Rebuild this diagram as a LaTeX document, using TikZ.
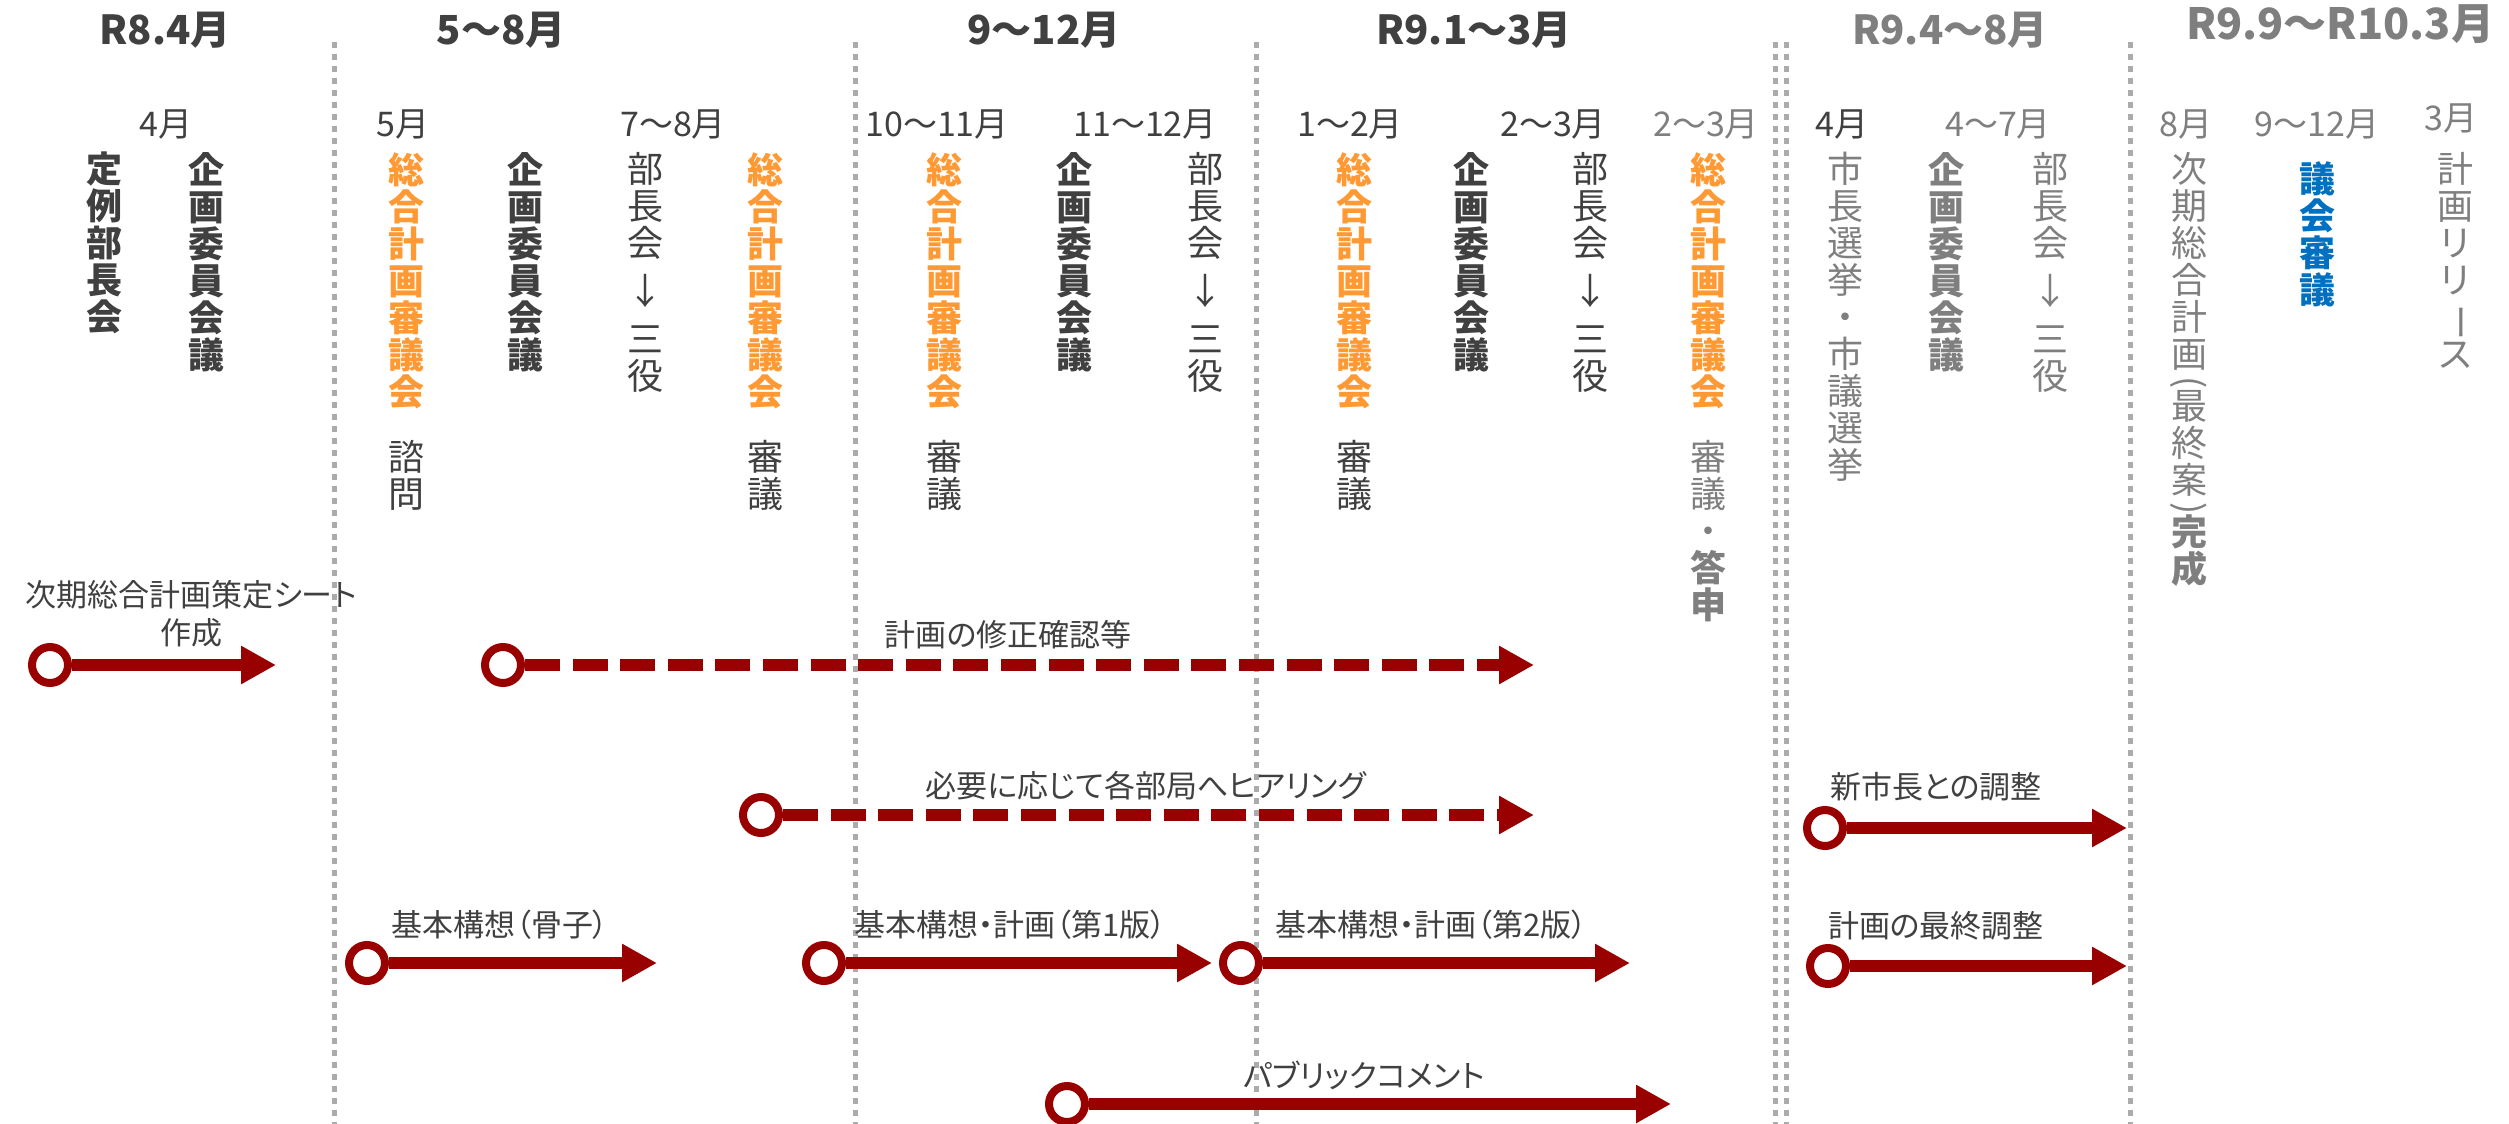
\documentclass[tikz,border=0pt]{standalone}
\usepackage{fontspec}
\usepackage{graphicx}
\setmainfont{Noto Sans CJK JP}[RawFeature={+palt}]
\usetikzlibrary{arrows.meta}
\definecolor{dk}{HTML}{404040}
\definecolor{gy}{HTML}{7F7F7F}
\definecolor{og}{HTML}{FF9933}
\definecolor{bl}{HTML}{0070C0}
\definecolor{rd}{HTML}{990000}
\definecolor{dotc}{HTML}{ABABAB}
\newcommand\vfnt{\fontsize{36}{37}\selectfont\lineskiplimit=-100pt\relax}
\newcommand\rotch[1]{\rotatebox[origin=c]{-90}{#1}}
\begin{document}
\begin{tikzpicture}[x=1pt,y=-1pt,
  hdr/.style={font=\fontsize{40}{44}\selectfont\bfseries, inner sep=0pt},
  mon/.style={font=\fontsize{34}{38}\selectfont, inner sep=0pt},
  vt/.style={anchor=north, align=center, inner sep=0pt, font=\vfnt},
  lbl/.style={font=\fontsize{31}{38}\selectfont, inner sep=0pt, text=dk},
  sepline/.style={draw=dotc, line width=5pt, dash pattern=on 6pt off 6pt},
  ring/.style={circle, draw=rd, fill=white, line width=8pt, minimum size=36pt, inner sep=0pt},
  arr/.style={draw=rd, line width=12pt, -{Triangle[length=35pt,width=36pt]}},
  darr/.style={arr, dash pattern=on 35pt off 12.6pt}]
\fill[white] (0,0) rectangle (2509,1124);
\useasboundingbox (0,0) rectangle (2509,1124);

% separators
\draw[sepline] (334,42) -- (334,1124);
\draw[sepline] (855,42) -- (855,1124);
\draw[sepline] (1256,42) -- (1256,1124);
\draw[sepline] (1775,42) -- (1775,1124);
\draw[sepline] (1786,42) -- (1786,1124);
\draw[sepline] (2130,42) -- (2130,1124);

% headers
\node[hdr,text=dk] (h1) at (165,30) {R8.4月};
\node[hdr,text=dk] (h2) at (501,30) {5～8月};
\node[hdr,text=dk] (h3) at (1044,30) {9～12月};
\node[hdr,text=dk] (h4) at (1474,30) {R9.1～3月};
\node[hdr,text=gy] (h5) at (1950,30) {R9.4～8月};
\node[hdr,text=gy,font=\fontsize{43}{46}\selectfont\bfseries] (h6) at (2340,24) {R9.9～R10.3月};

% month labels
\node[mon,text=dk] (m1) at (166,124) {4月};
\node[mon,text=dk] (m2) at (403,124) {5月};
\node[mon,text=dk] (m3) at (673,124) {7～8月};
\node[mon,text=dk] (m4) at (937,124) {10～11月};
\node[mon,text=dk] (m5) at (1145,124) {11～12月};
\node[mon,text=dk] (m6) at (1350,124) {1～2月};
\node[mon,text=dk] (m7) at (1553,124) {2～3月};
\node[mon,text=gy] (m8) at (1706,124) {2～3月};
\node[mon,text=dk] (m9) at (1842,124) {4月};
\node[mon,text=gy] (m10) at (1998,124) {4～7月};
\node[mon,text=gy] (m11) at (2186,124) {8月};
\node[mon,text=gy] (m12) at (2317,124) {9～12月};
\node[mon,text=gy] (m13) at (2451,118) {3月};

% vertical columns
\node[vt,text=dk,font=\vfnt\bfseries] (v1) at (104,152) {定\\例\\部\\長\\会};
\node[vt,text=dk,font=\vfnt\bfseries] (v2) at (206,152) {企\\画\\委\\員\\会\\議};

\node[vt,text=og,font=\vfnt\bfseries] (v3) at (406,152) {総\\合\\計\\画\\審\\議\\会};
\node[vt,text=dk] (v3b) at (406,440) {諮\\問};
\node[vt,text=dk,font=\vfnt\bfseries] (v4) at (525,152) {企\\画\\委\\員\\会\\議};
\node[vt,text=dk] (v5) at (645,152) {部\\長\\会\\[11pt]↓\\[11pt]三\\役};
\node[vt,text=og,font=\vfnt\bfseries] (v6) at (765,152) {総\\合\\計\\画\\審\\議\\会};
\node[vt,text=dk] (v6b) at (765,440) {審\\議};

\node[vt,text=og,font=\vfnt\bfseries] (v7) at (944,152) {総\\合\\計\\画\\審\\議\\会};
\node[vt,text=dk] (v7b) at (944,440) {審\\議};
\node[vt,text=dk,font=\vfnt\bfseries] (v8) at (1074,152) {企\\画\\委\\員\\会\\議};
\node[vt,text=dk] (v9) at (1205,152) {部\\長\\会\\[11pt]↓\\[11pt]三\\役};

\node[vt,text=og,font=\vfnt\bfseries] (v10) at (1354,152) {総\\合\\計\\画\\審\\議\\会};
\node[vt,text=dk] (v10b) at (1354,440) {審\\議};
\node[vt,text=dk,font=\vfnt\bfseries] (v11) at (1471,152) {企\\画\\委\\員\\会\\議};
\node[vt,text=dk] (v12) at (1590,152) {部\\長\\会\\[11pt]↓\\[11pt]三\\役};
\node[vt,text=og,font=\vfnt\bfseries] (v13) at (1708,152) {総\\合\\計\\画\\審\\議\\会};
\node[vt,text=gy] (v13b) at (1708,440) {審\\議\\・\\{\bfseries 答}\\{\bfseries 申}};

\node[vt,text=gy] (v14) at (1845,152) {市\\長\\選\\挙\\・\\市\\議\\選\\挙};
\node[vt,text=gy,font=\vfnt\bfseries] (v15) at (1946,152) {企\\画\\委\\員\\会\\議};
\node[vt,text=gy] (v16) at (2050,152) {部\\長\\会\\[11pt]↓\\[11pt]三\\役};

\node[vt,text=gy] (v17) at (2189,152) {次\\期\\総\\合\\計\\画\\[-11pt]\rotch{(}\\[-11pt]最\\終\\案\\[-11pt]\rotch{)}\\[-11pt]{\bfseries 完}\\{\bfseries 成}};
\node[vt,text=bl,font=\vfnt\bfseries] (v18) at (2317,161) {議\\会\\審\\議};
\node[vt,text=gy] (v19) at (2455,152) {計\\画\\リ\\リ\\\rotch{ー}\\ス};

% arrow labels
\node[lbl] (t1a) at (191,595) {次期総合計画策定シート};
\node[lbl] (t1b) at (191,633) {作成};
\node[lbl] (t2) at (1008,635) {計画の修正確認等};
\node[lbl] (t3) at (1146,786) {必要に応じて各部局へヒアリング};
\node[lbl] (t4) at (1936,787) {新市長との調整};
\node[lbl] (t5) at (500,925) {基本構想（骨子）};
\node[lbl] (t6) at (1010,925) {基本構想・計画（第1版）};
\node[lbl] (t7) at (1431,925) {基本構想・計画（第2版）};
\node[lbl] (t8) at (1936,926) {計画の最終調整};
\node[lbl] (t9) at (1364,1075) {パブリックコメント};

% arrows
\node[ring] (c1) at (50,665) {};
\coordinate (e1) at (276,665);
\node[ring] (c2) at (503,665) {};
\coordinate (e2) at (1534,665);
\node[ring] (c3) at (761,815) {};
\coordinate (e3) at (1534,815);
\node[ring] (c4) at (1825,828) {};
\coordinate (e4) at (2127,828);
\node[ring] (c5) at (367,963) {};
\coordinate (e5) at (657,963);
\node[ring] (c6) at (824,963) {};
\coordinate (e6) at (1212,963);
\node[ring] (c7) at (1241,963) {};
\coordinate (e7) at (1630,963);
\node[ring] (c8) at (1828,966) {};
\coordinate (e8) at (2127,966);
\node[ring] (c9) at (1067,1104) {};
\coordinate (e9) at (1671,1104);

\draw[arr] (c1) -- (e1);
\draw[darr] (c2) -- (e2);
\draw[darr] (c3) -- (e3);
\draw[arr] (c4) -- (e4);
\draw[arr] (c5) -- (e5);
\draw[arr] (c6) -- (e6);
\draw[arr] (c7) -- (e7);
\draw[arr] (c8) -- (e8);
\draw[arr] (c9) -- (e9);
\end{tikzpicture}
\end{document}
